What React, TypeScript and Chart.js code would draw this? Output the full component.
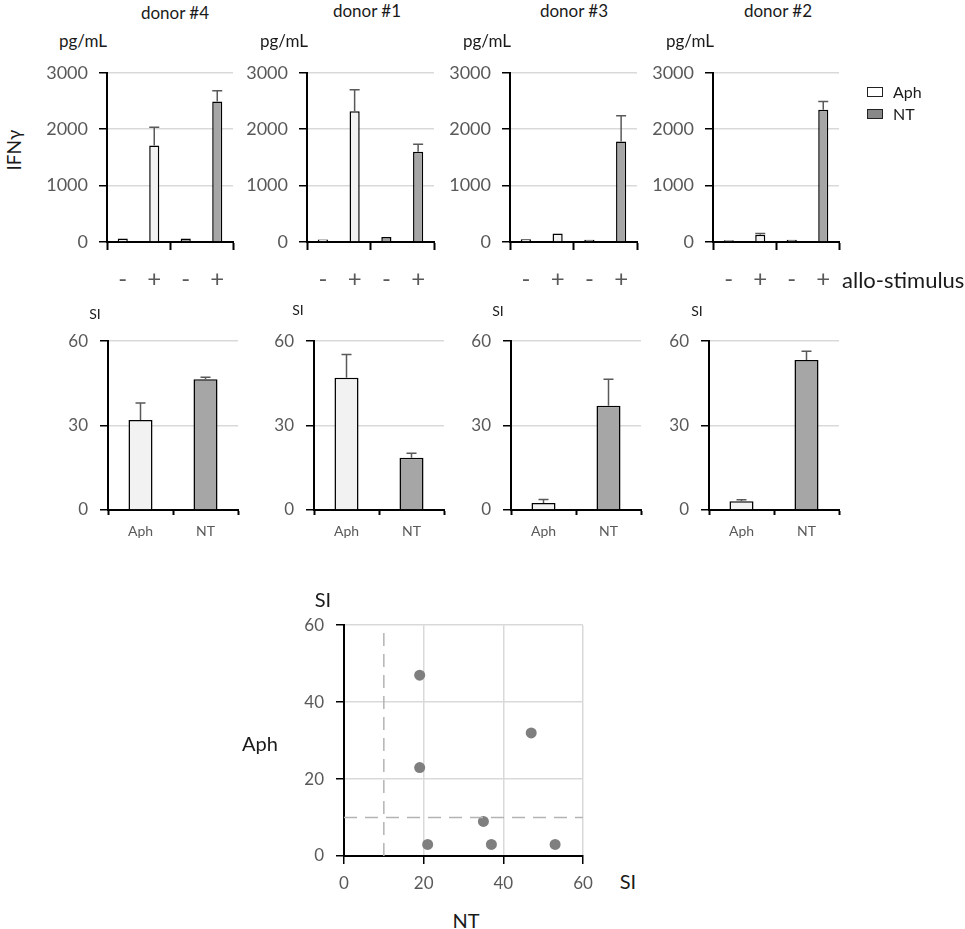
import React, { useEffect, useRef } from 'react';
import { Chart, registerables } from 'chart.js';

Chart.register(...registerables);
Chart.defaults.font.family = 'Lato, "Open Sans", sans-serif';

// ---------- data ----------
const donors = ['donor #4', 'donor #1', 'donor #3', 'donor #2'];
const stimLabels = ['-', '+', '-', '+'];
const ifnTicksMax = 3000;
const ifnTickStep = 1000;
// IFNγ (pg/mL), [no stimulus, allo-stimulus] per donor
const ifnAph = [[60, 1710], [45, 2320], [50, 150], [30, 130]];
const ifnAphErr = [[0, 325], [0, 380], [0, 0], [0, 20]];
const ifnNT = [[60, 2490], [90, 1600], [40, 1780], [40, 2345]];
const ifnNTErr = [[0, 190], [0, 135], [0, 460], [0, 145]];

// Stimulation index per donor
const siGroups = ['Aph', 'NT'];
const siMax = 60;
const siStep = 30;
const siAph = [32, 47, 2.5, 3.1];
const siAphErr = [6, 8.3, 1.2, 0.5];
const siNT = [46.5, 18.6, 37.1, 53.3];
const siNTErr = [0.7, 1.6, 9.4, 3.1];

// Scatter SI: NT (x) vs Aph (y)
const scatterNT = [19, 47, 19, 35, 21, 37, 53];
const scatterAph = [47, 32, 23, 9, 3, 3, 3];
const scatterMax = 60;
const scatterStep = 20;
const siThreshold = 10;

// ---------- styles ----------
const APH_COLOR = '#f2f2f2';
const NT_COLOR = '#a6a6a6';
const TICK_COLOR = '#595959';
const GRID_COLOR = '#d9d9d9';
const plainTick = (v: any) => String(v);

const errorBarPlugin = {
  id: 'errorBars',
  afterDatasetsDraw(chart: any) {
    const { ctx } = chart;
    const yScale = chart.scales.y;
    chart.data.datasets.forEach((ds: any, i: number) => {
      const errs = ds.errors;
      if (!errs) return;
      const meta = chart.getDatasetMeta(i);
      meta.data.forEach((bar: any, j: number) => {
        const v = ds.data[j];
        const e = errs[j];
        if (v == null || !e) return;
        const yTop = yScale.getPixelForValue(v + e);
        ctx.save();
        ctx.strokeStyle = '#595959';
        ctx.lineWidth = 1.5;
        ctx.beginPath();
        ctx.moveTo(bar.x, bar.y);
        ctx.lineTo(bar.x, yTop);
        ctx.moveTo(bar.x - 5, yTop);
        ctx.lineTo(bar.x + 5, yTop);
        ctx.stroke();
        ctx.restore();
      });
    });
  },
};

function ChartBox({ left, top, width, height, makeConfig }: any) {
  const ref = useRef<HTMLCanvasElement | null>(null);
  useEffect(() => {
    if (!ref.current) return;
    const chart = new Chart(ref.current, makeConfig());
    return () => chart.destroy();
  }, []);
  return (
    <div style={{ position: 'absolute', left, top, width, height }}>
      <canvas ref={ref} />
    </div>
  );
}

const PAD_TOP = 20;
const PAD_RIGHT = 30;
const Y_AXIS_W = 70;

function ifnConfig(d: number) {
  return {
    type: 'bar',
    data: {
      labels: stimLabels,
      datasets: [
        {
          label: 'Aph',
          data: [ifnAph[d][0], ifnAph[d][1], null, null],
          errors: [ifnAphErr[d][0], ifnAphErr[d][1], 0, 0],
          backgroundColor: APH_COLOR,
          borderColor: '#000',
          borderWidth: 1.5,
          grouped: false,
          barPercentage: 0.32,
          categoryPercentage: 1,
        },
        {
          label: 'NT',
          data: [null, null, ifnNT[d][0], ifnNT[d][1]],
          errors: [0, 0, ifnNTErr[d][0], ifnNTErr[d][1]],
          backgroundColor: NT_COLOR,
          borderColor: '#000',
          borderWidth: 1.5,
          grouped: false,
          barPercentage: 0.32,
          categoryPercentage: 1,
        },
      ],
    },
    options: {
      responsive: true,
      maintainAspectRatio: false,
      animation: false,
      layout: { padding: { top: PAD_TOP, right: PAD_RIGHT, left: 0, bottom: 0 } },
      plugins: { legend: { display: false }, tooltip: { enabled: false } },
      scales: {
        x: {
          offset: true,
          afterFit: (s: any) => { s.height = 50; },
          border: { color: '#000', width: 2 },
          grid: {
            offset: true,
            drawOnChartArea: false,
            tickLength: 8,
            tickWidth: 2,
            tickColor: (c: any) => (c.index === 1 || c.index === 3 ? 'rgba(0,0,0,0)' : '#000'),
          },
          ticks: { color: TICK_COLOR, font: { size: 24 }, padding: 15 },
        },
        y: {
          min: 0,
          max: ifnTicksMax,
          afterFit: (s: any) => { s.width = Y_AXIS_W; },
          border: { color: '#000', width: 2 },
          grid: { color: GRID_COLOR, lineWidth: 1.5, tickColor: '#000', tickLength: 8, tickWidth: 1.5 },
          ticks: { stepSize: ifnTickStep, color: TICK_COLOR, font: { size: 18 }, padding: 11, callback: plainTick },
        },
      },
    },
    plugins: [errorBarPlugin],
  };
}

function siConfig(d: number) {
  return {
    type: 'bar',
    data: {
      labels: siGroups,
      datasets: [
        {
          label: 'Aph',
          data: [siAph[d], null],
          errors: [siAphErr[d], 0],
          backgroundColor: APH_COLOR,
          borderColor: '#000',
          borderWidth: 1.5,
          grouped: false,
          barPercentage: 0.37,
          categoryPercentage: 1,
        },
        {
          label: 'NT',
          data: [null, siNT[d]],
          errors: [0, siNTErr[d]],
          backgroundColor: NT_COLOR,
          borderColor: '#000',
          borderWidth: 1.5,
          grouped: false,
          barPercentage: 0.37,
          categoryPercentage: 1,
        },
      ],
    },
    options: {
      responsive: true,
      maintainAspectRatio: false,
      animation: false,
      layout: { padding: { top: PAD_TOP, right: PAD_RIGHT, left: 0, bottom: 0 } },
      plugins: { legend: { display: false }, tooltip: { enabled: false } },
      scales: {
        x: {
          offset: true,
          afterFit: (s: any) => { s.height = 40; },
          border: { color: '#000', width: 2 },
          grid: { offset: true, drawOnChartArea: false, tickLength: 5, tickWidth: 2, tickColor: '#000' },
          ticks: { color: TICK_COLOR, font: { size: 14 }, padding: 8 },
        },
        y: {
          min: 0,
          max: siMax,
          afterFit: (s: any) => { s.width = Y_AXIS_W; },
          border: { color: '#000', width: 2 },
          grid: { color: GRID_COLOR, lineWidth: 1.5, tickColor: '#000', tickLength: 8, tickWidth: 1.5 },
          ticks: { stepSize: siStep, color: TICK_COLOR, font: { size: 17 }, padding: 12, callback: plainTick },
        },
      },
    },
    plugins: [errorBarPlugin],
  };
}

function scatterConfig() {
  const pts = scatterNT.map((x, i) => ({ x, y: scatterAph[i] }));
  return {
    type: 'scatter',
    data: {
      datasets: [
        {
          label: 'threshold NT',
          data: [{ x: siThreshold, y: 0 }, { x: siThreshold, y: 58.5 }],
          showLine: true,
          borderColor: '#b3b3b3',
          borderWidth: 1.5,
          borderDash: [13, 8],
          pointRadius: 0,
        },
        {
          label: 'threshold Aph',
          data: [{ x: 0, y: siThreshold }, { x: scatterMax, y: siThreshold }],
          showLine: true,
          borderColor: '#b3b3b3',
          borderWidth: 1.5,
          borderDash: [13, 8],
          pointRadius: 0,
        },
        {
          label: 'SI',
          data: pts,
          pointRadius: 5.5,
          pointBackgroundColor: '#7f7f7f',
          pointBorderWidth: 0,
          backgroundColor: '#7f7f7f',
        },
      ],
    },
    options: {
      responsive: true,
      maintainAspectRatio: false,
      animation: false,
      layout: { padding: { top: PAD_TOP, right: PAD_RIGHT, left: 0, bottom: 0 } },
      plugins: { legend: { display: false }, tooltip: { enabled: false } },
      scales: {
        x: {
          type: 'linear',
          min: 0,
          max: scatterMax,
          afterFit: (s: any) => { s.height = 40; },
          border: { color: '#000', width: 2 },
          grid: { color: GRID_COLOR, lineWidth: 1.5, tickColor: '#000', tickLength: 8, tickWidth: 1.5 },
          ticks: { stepSize: scatterStep, color: TICK_COLOR, font: { size: 17 }, padding: 9, callback: plainTick },
        },
        y: {
          type: 'linear',
          min: 0,
          max: scatterMax,
          afterFit: (s: any) => { s.width = Y_AXIS_W; },
          border: { color: '#000', width: 2 },
          grid: { color: GRID_COLOR, lineWidth: 1.5, tickColor: '#000', tickLength: 8, tickWidth: 1.5 },
          ticks: { stepSize: scatterStep, color: TICK_COLOR, font: { size: 17 }, padding: 12, callback: plainTick },
        },
      },
    },
  };
}

// panel geometry (plot-area edges in page pixels)
const topAxisX = [107, 307, 510, 713];
const topPlotW = [126, 127, 127, 126];
const TOP_Y0 = 71;
const TOP_H = 171;
const midAxisX = [108, 314, 511, 709];
const midPlotW = [130, 130, 130, 130];
const MID_Y0 = 339;
const MID_H = 171;

function Label({ x, y, size, children, rotate, anchor }: any) {
  const tx = anchor === 'left' ? '0' : '-50%';
  return (
    <div
      style={{
        position: 'absolute',
        left: x,
        top: y,
        fontSize: size,
        lineHeight: 1,
        color: '#1a1a1a',
        whiteSpace: 'nowrap',
        transform: `translate(${tx}, -50%)${rotate ? ` rotate(${rotate}deg)` : ''}`,
      }}
    >
      {children}
    </div>
  );
}

export default function App() {
  const titleX = [175, 367, 574, 778];
  const titleY = [12, 10, 10, 10];
  const unitX = [83, 284, 487, 690];
  const siLabelX = [95, 298, 498, 697];
  const siLabelY = [314, 310, 311, 311];
  return (
    <div
      style={{
        position: 'absolute',
        left: 0,
        top: 0,
        width: 965,
        height: 929,
        background: '#fff',
        overflow: 'hidden',
        fontFamily: 'Lato, "Open Sans", sans-serif',
      }}
    >
      {donors.map((_, d) => (
        <ChartBox
          key={'ifn' + d}
          left={topAxisX[d] - Y_AXIS_W}
          top={TOP_Y0 - PAD_TOP}
          width={Y_AXIS_W + topPlotW[d] + PAD_RIGHT}
          height={PAD_TOP + TOP_H + 50}
          makeConfig={() => ifnConfig(d)}
        />
      ))}
      {donors.map((_, d) => (
        <ChartBox
          key={'si' + d}
          left={midAxisX[d] - Y_AXIS_W}
          top={MID_Y0 - PAD_TOP}
          width={Y_AXIS_W + midPlotW[d] + PAD_RIGHT}
          height={PAD_TOP + MID_H + 40}
          makeConfig={() => siConfig(d)}
        />
      ))}
      <ChartBox
        left={344 - Y_AXIS_W}
        top={623 - PAD_TOP}
        width={Y_AXIS_W + 239 + PAD_RIGHT}
        height={PAD_TOP + 233 + 40}
        makeConfig={scatterConfig}
      />

      {donors.map((t, d) => (
        <Label key={'t' + d} x={titleX[d]} y={titleY[d]} size={17}>{t}</Label>
      ))}
      {donors.map((_, d) => (
        <Label key={'u' + d} x={unitX[d]} y={40} size={17}>pg/mL</Label>
      ))}
      <Label x={13} y={150} size={19} rotate={-90}>IFNγ</Label>

      <div style={{ position: 'absolute', left: 867, top: 87, width: 14, height: 8, border: '1.5px solid #222', background: '#fff' }} />
      <Label x={893} y={92} size={16} anchor="left">Aph</Label>
      <div style={{ position: 'absolute', left: 867, top: 109, width: 14, height: 8, border: '1.5px solid #222', background: '#888' }} />
      <Label x={893} y={114} size={16} anchor="left">NT</Label>

      <Label x={842} y={280} size={22} anchor="left">allo-stimulus</Label>

      {donors.map((_, d) => (
        <Label key={'s' + d} x={siLabelX[d]} y={siLabelY[d]} size={14}>SI</Label>
      ))}

      <Label x={323} y={599} size={20}>SI</Label>
      <Label x={260} y={743} size={20}>Aph</Label>
      <Label x={628} y={881} size={20}>SI</Label>
      <Label x={466} y={920} size={20}>NT</Label>
    </div>
  );
}
